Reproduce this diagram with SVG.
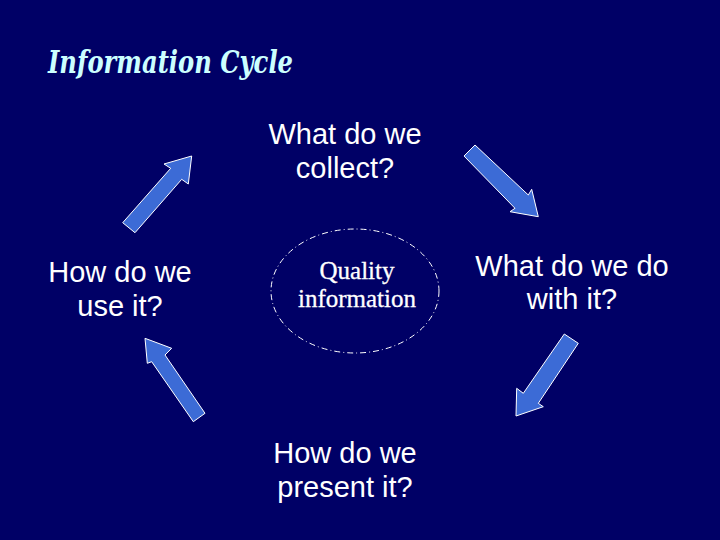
<svg xmlns="http://www.w3.org/2000/svg" width="720" height="540" viewBox="0 0 720 540">
<style>
.lbl{font-family:"Liberation Sans",Arial,sans-serif;font-size:29px;fill:#ffffff;text-anchor:middle}
.arrow{fill:#3C6BD6;stroke:#ffffff;stroke-width:1}
.core{font-family:"Liberation Serif","Times New Roman",serif;font-size:25px;fill:#ffffff;text-anchor:middle;stroke:#ffffff;stroke-width:0.3}
</style>
<rect width="720" height="540" fill="#000066"/>
<text x="48" y="73" font-family="'DejaVu Serif',serif" font-style="italic" font-weight="bold" font-size="32" fill="#CCFFFF" textLength="245" lengthAdjust="spacingAndGlyphs">Information Cycle</text>
<g id="center">
<ellipse cx="355" cy="291" rx="84" ry="62" fill="none" stroke="#ffffff" stroke-width="1" stroke-dasharray="6 3 1 3"/>
<text class="core" x="357" y="279">Quality</text>
<text class="core" x="357" y="307">information</text>
</g>
<g id="collect">
<text class="lbl" x="345" y="144">What do we</text>
<text class="lbl" x="345" y="178">collect?</text>
</g>
<g id="do">
<text class="lbl" x="572" y="276">What do we do</text>
<text class="lbl" x="572" y="309">with it?</text>
</g>
<g id="present">
<text class="lbl" x="345" y="463">How do we</text>
<text class="lbl" x="345" y="497">present it?</text>
</g>
<g id="use">
<text class="lbl" x="120" y="282">How do we</text>
<text class="lbl" x="120" y="316">use it?</text>
</g>
<g id="connectors">
<polygon class="arrow" points="122.7,222.7 170.7,168.3 164,164 191.7,156 188.3,184 181.7,179.3 135,232.7"/>
<polygon class="arrow" points="475,145 528.3,195 531.7,189.3 538.3,216.7 510,211.7 515,208.3 464,156"/>
<polygon class="arrow" points="578.3,343.3 538.3,403.3 543.3,406.7 516,416 516.7,388.3 523.3,393.3 564.3,334"/>
<polygon class="arrow" points="193.3,421.7 151.7,361.7 147.3,363.3 145,338.3 171.7,348.3 165,355 205,413.3"/>
</g>
</svg>
